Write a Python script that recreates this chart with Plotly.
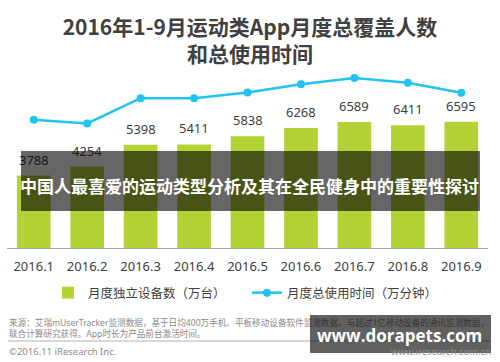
import plotly.graph_objects as go

months = ["2016.1", "2016.2", "2016.3", "2016.4", "2016.5", "2016.6", "2016.7", "2016.8", "2016.9"]
devices = [3788, 4254, 5398, 5411, 5838, 6268, 6589, 6411, 6595]          # 月度独立设备数（万台）
usage_time = [6700, 6510, 7830, 7830, 8130, 8560, 8880, 8630, 8110]     # 月度总使用时间（万分钟）, read on hidden scale

bar_name = "月度独立设备数（万台）"
line_name = "月度总使用时间（万分钟）"
title_text = "2016年1-9月运动类App月度总覆盖人数<br>和总使用时间"
band_text = "中国人最喜爱的运动类型分析及其在全民健身中的重要性探讨"
source_line1 = "来源：艾瑞mUserTracker监测数据，基于日均400万手机、平板移动设备软件监测数据，与超过1亿移动设备的通讯监测数据，"
source_line2 = "联合计算研究获得。App时长为产品前台激活时间。"
copyright_text = "©2016.11 iResearch Inc."
site_text = "www.iresearch.com.cn"
watermark_text = "www.dorapets.com"

GREEN = "#b3d235"
CYAN = "#22c3ef"
DARK = "#404040"
GREY = "#8a8a8a"
FONT = "Noto Sans, Noto Sans CJK SC"
CJK = "Noto Sans CJK SC"

fig = go.Figure()
fig.add_trace(go.Bar(
    x=months, y=devices, name=bar_name, marker=dict(color=GREEN, line=dict(width=0)),
    width=0.63, legend="legend", hoverinfo="skip",
))
fig.add_trace(go.Scatter(
    x=months, y=usage_time, name=line_name, yaxis="y2", mode="lines+markers",
    line=dict(color=CYAN, width=2.5), marker=dict(color=CYAN, size=8),
    legend="legend2", hoverinfo="skip",
))

annotations = []
# value labels above bars
for i, v in enumerate(devices):
    annotations.append(dict(
        x=i, y=v, xref="x", yref="y", text=str(v), showarrow=False,
        yanchor="bottom", yshift=5, font=dict(family=FONT, size=13, color=DARK),
    ))

W, L, T, H = 481, 7, 70, 178
def px(X):
    return (X - L) / W
def py(Y):
    return (T + H - Y) / H

# dark overlay band
annotations.append(dict(
    x=px(250.5), y=py(181), xref="paper", yref="paper", text=" ", showarrow=False,
    width=459, height=60, bgcolor="rgba(0,0,0,0.6)", borderpad=0, borderwidth=0,
    xanchor="center", yanchor="middle", font=dict(size=10),
))
annotations.append(dict(
    x=px(249.5), y=py(185), xref="paper", yref="paper", text="<b>" + band_text + "</b>",
    showarrow=False, xanchor="center", yanchor="middle",
    font=dict(family=CJK, size=17, color="white"),
))
# footnotes
annotations.append(dict(
    x=px(7), y=py(322.5), xref="paper", yref="paper", text=source_line1, showarrow=False,
    xanchor="left", yanchor="middle", font=dict(family=FONT, size=8.6, color=GREY),
))
annotations.append(dict(
    x=px(7), y=py(333.5), xref="paper", yref="paper", text=source_line2, showarrow=False,
    xanchor="left", yanchor="middle", font=dict(family=FONT, size=8.6, color=GREY),
))
annotations.append(dict(
    x=px(7), y=py(351), xref="paper", yref="paper", text=copyright_text, showarrow=False,
    xanchor="left", yanchor="middle", font=dict(family=FONT, size=9.5, color=GREY),
))
# watermark box
annotations.append(dict(
    x=px(400.5), y=py(333.9), xref="paper", yref="paper", text=" ", showarrow=False,
    width=181, height=38, bgcolor="rgba(0,0,0,0.62)", borderpad=0, borderwidth=0,
    xanchor="center", yanchor="middle", font=dict(size=10),
))
annotations.append(dict(
    x=px(399.5), y=py(335), xref="paper", yref="paper", text="<b>" + watermark_text + "</b>",
    showarrow=False, xanchor="center", yanchor="middle",
    font=dict(family="Open Sans", size=17, color="white"),
))
annotations.append(dict(
    x=px(493), y=py(351), xref="paper", yref="paper", text=site_text, showarrow=False,
    xanchor="right", yanchor="middle", font=dict(family=FONT, size=9.5, color=GREY),
))

fig.update_layout(
    template="none",
    width=500, height=362,
    margin=dict(l=L, r=500 - L - W, t=T, b=362 - T - H, autoexpand=False),
    paper_bgcolor="white", plot_bgcolor="white",
    title=dict(text="<b>" + title_text + "</b>", x=0.5, xanchor="center",
               y=1 - 35 / 362, yanchor="middle", yref="container",
               font=dict(family=CJK, size=21, color=DARK)),
    xaxis=dict(type="category", showline=True, linecolor="#a6a6a6", linewidth=1, ticks="",
               showgrid=False, zeroline=False, ticklabelstandoff=6,
               tickfont=dict(family=FONT, size=13, color=DARK), range=[-0.5, 8.5]),
    yaxis=dict(visible=False, range=[0, 9300], showgrid=False, zeroline=False),
    yaxis2=dict(visible=False, range=[0, 9300], overlaying="y", showgrid=False, zeroline=False),
    showlegend=True,
    legend=dict(orientation="h", xref="container", yref="container", x=48 / 500, xanchor="left",
                y=1 - 293 / 362, yanchor="middle",
                font=dict(family=FONT, size=12.5, color=DARK), bgcolor="rgba(0,0,0,0)"),
    legend2=dict(orientation="h", xref="container", yref="container", x=247 / 500, xanchor="left",
                 y=1 - 293 / 362, yanchor="middle",
                 font=dict(family=FONT, size=12.5, color=DARK), bgcolor="rgba(0,0,0,0)"),
    annotations=annotations,
    shapes=[dict(type="line", xref="paper", yref="paper", x0=px(8), x1=px(490),
                 y0=py(341), y1=py(341), line=dict(color="#b0b0b0", width=1))],
)

fig.write_html("out.html", config={"displayModeBar": False},
               post_script="document.body.style.margin='0';document.body.style.overflow='hidden';")
